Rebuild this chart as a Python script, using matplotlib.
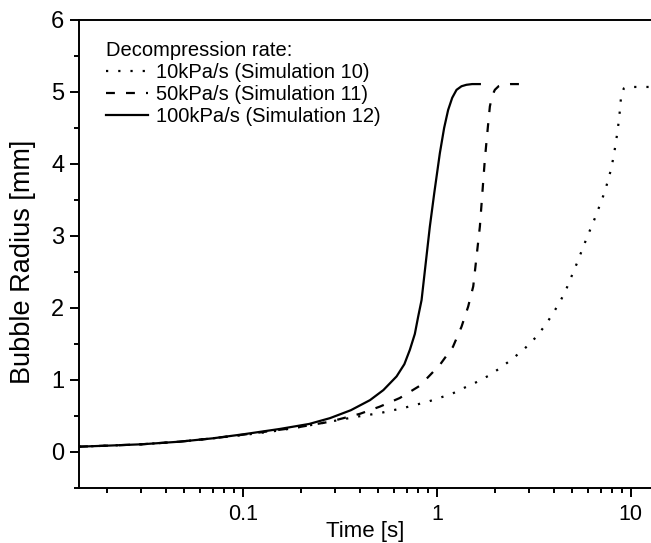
import matplotlib
matplotlib.use('Agg')
import matplotlib.pyplot as plt
from matplotlib.ticker import MultipleLocator, LogLocator, NullFormatter

plt.rcParams['font.family'] = ['Liberation Sans', 'DejaVu Sans']

# Simulation 10: 10 kPa/s (dotted)
t10 = [0.0143, 0.02, 0.03, 0.047, 0.07, 0.1, 0.155, 0.22, 0.28, 0.386, 0.508,
       0.67, 0.902, 1.2, 1.38, 1.6, 1.85, 2.13, 2.44, 2.82, 3.23, 3.62, 3.98,
       4.34, 4.66, 5.25, 5.86, 6.6, 7.35, 7.95, 8.37, 8.7, 8.92, 9.2, 9.5,
       11.0, 12.7]
r10 = [0.074, 0.088, 0.107, 0.143, 0.19, 0.235, 0.30, 0.37, 0.42, 0.49, 0.54,
       0.61, 0.70, 0.81, 0.89, 0.97, 1.06, 1.17, 1.29, 1.43, 1.59, 1.76, 1.93,
       2.10, 2.27, 2.61, 2.94, 3.28, 3.62, 3.95, 4.29, 4.63, 4.96, 5.05, 5.07,
       5.07, 5.07]

# Simulation 11: 50 kPa/s (dashed)
t11 = [0.0143, 0.02, 0.03, 0.047, 0.07, 0.1, 0.189, 0.28, 0.401, 0.508, 0.644,
       0.817, 1.036, 1.21, 1.34, 1.45, 1.54, 1.666, 1.767, 1.83, 1.876, 1.93,
       1.99, 2.08, 2.20, 2.4, 2.68]
r11 = [0.074, 0.088, 0.107, 0.143, 0.19, 0.24, 0.34, 0.42, 0.53, 0.63, 0.75,
       0.92, 1.21, 1.46, 1.74, 2.02, 2.30, 3.13, 4.06, 4.5, 4.80, 4.95,
       5.03, 5.08, 5.10, 5.11, 5.11]

# Simulation 12: 100 kPa/s (solid)
t12 = [0.0143, 0.02, 0.03, 0.047, 0.07, 0.1, 0.155, 0.22, 0.281, 0.36, 0.452,
       0.53, 0.62, 0.68, 0.726, 0.77, 0.801, 0.834, 0.87, 0.92, 0.97, 1.036,
       1.09, 1.143, 1.2, 1.263, 1.34, 1.42, 1.52, 1.665]
r12 = [0.074, 0.088, 0.107, 0.143, 0.19, 0.245, 0.32, 0.39, 0.47, 0.58, 0.72,
       0.86, 1.05, 1.22, 1.42, 1.64, 1.88, 2.11, 2.55, 3.13, 3.6, 4.15,
       4.5, 4.75, 4.92, 5.03, 5.08, 5.10, 5.11, 5.11]

labels = ['10kPa/s (Simulation 10)', '50kPa/s (Simulation 11)',
          '100kPa/s (Simulation 12)']

fig = plt.figure(figsize=(6.51, 5.43), dpi=100)
ax = fig.add_axes([79/651, 55/543, 572/651, 468/543])

lw = 1.6
ax.plot(t10, r10, color='black', lw=lw, ls=(0, (1, 4.5)), label=labels[0])
ax.plot(t11, r11, color='black', lw=lw, ls=(0, (4, 5)), label=labels[1])
ax.plot(t12, r12, color='black', lw=lw, ls='-', label=labels[2])

ax.set_xscale('log')
ax.set_xlim(0.0143, 12.7)
ax.set_ylim(-0.5, 6)

ax.set_xticks([0.1, 1, 10])
ax.set_xticklabels(['0.1', '1', '10'])
ax.xaxis.set_minor_locator(LogLocator(base=10, subs=range(2, 10)))
ax.xaxis.set_minor_formatter(NullFormatter())
ax.yaxis.set_major_locator(MultipleLocator(1))
ax.yaxis.set_minor_locator(MultipleLocator(0.5))

ax.spines['right'].set_visible(False)
for s in ['left', 'bottom', 'top']:
    ax.spines[s].set_linewidth(1.4)

ax.tick_params(which='major', direction='out', length=6.5, width=1.4)
ax.tick_params(which='minor', direction='out', length=3.5, width=1.4)
ax.tick_params(axis='x', which='major', pad=5, labelsize=15.5)
ax.tick_params(axis='y', which='major', pad=4, labelsize=17)
ax.tick_params(top=False, right=False, which='both')

ax.set_xlabel('Time [s]', fontsize=16, labelpad=-3)
ax.set_ylabel('Bubble Radius [mm]', fontsize=19.5)
ax.yaxis.set_label_coords(-0.076, 0.484)

leg = ax.legend(loc='upper left', bbox_to_anchor=(0.033, 0.972),
                frameon=False, fontsize=14.5, title='Decompression rate:',
                title_fontsize=14.5, alignment='left', handlelength=2.1,
                handletextpad=0.4, labelspacing=0.14, borderpad=0.4,
                borderaxespad=0)

fig.savefig('out.png', dpi=100)
